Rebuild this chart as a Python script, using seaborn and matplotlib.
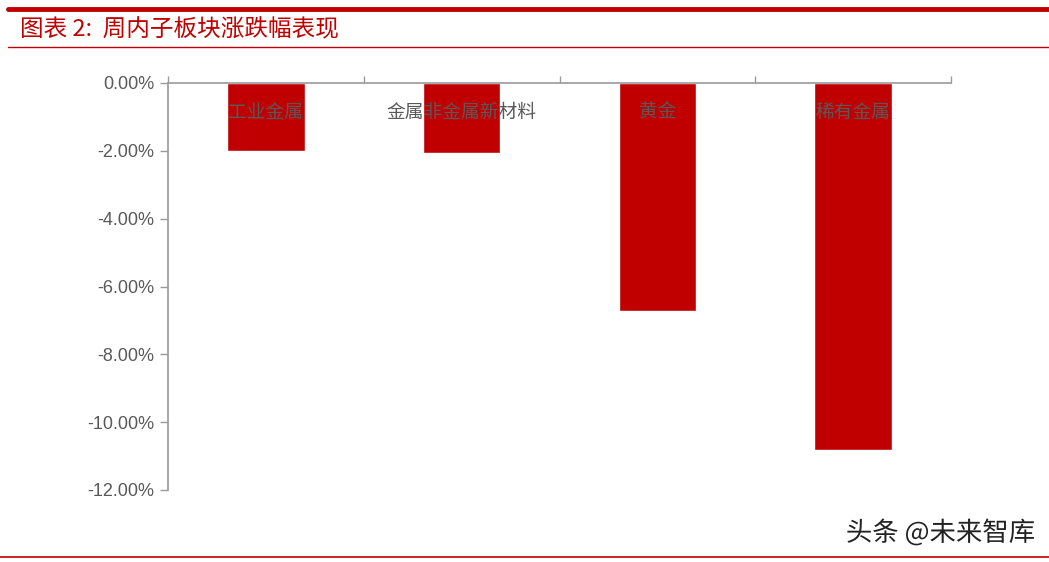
import matplotlib
matplotlib.use("Agg")
import matplotlib.pyplot as plt
import matplotlib.patheffects as pe
from matplotlib.ticker import FuncFormatter, FixedLocator
import numpy as np
import pandas as pd
import seaborn as sns

sns.set_style("white")
plt.rcParams['font.family'] = ['Noto Sans CJK SC', 'DejaVu Sans']

# data (weekly change, %)
categories = ["工业金属", "金属非金属新材料", "黄金", "稀有金属"]
changes = [-2.00, -2.07, -6.73, -10.83]
yticks = [0, -2, -4, -6, -8, -10, -12]

title = "图表 2:  周内子板块涨跌幅表现"
watermark = "头条 @未来智库"

red = "#C00000"
grey_text = "#595959"
grey_axis = "#9A9A9A"

df = pd.DataFrame({"category": categories, "change": changes})

fig = plt.figure(figsize=(10.49, 5.62), dpi=100)
ax = fig.add_axes([168 / 1049, 1 - 490 / 562, 783 / 1049, 407 / 562])

sns.barplot(data=df, x="category", y="change", color=red, width=0.395,
            saturation=1, ax=ax)

ax.set_ylim(-12, 0)
ax.set_xlim(-0.5, len(categories) - 0.5)
ax.set_xlabel("")
ax.set_ylabel("")

# y axis
ax.yaxis.set_major_locator(FixedLocator(yticks))
ax.yaxis.set_major_formatter(FuncFormatter(lambda v, p: f"{v:.2f}%"))
ax.tick_params(axis="y", colors=grey_axis, labelcolor=grey_text, labelsize=13,
               length=6, width=1, left=True, direction="out", pad=4)
for lbl in ax.get_yticklabels():
    lbl.set_fontfamily(["Liberation Sans", "DejaVu Sans"])

# x axis sits at the top (zero line), ticks between categories
ax.xaxis.tick_top()
ax.set_xticks(np.arange(len(categories) + 1) - 0.5)
ax.set_xticklabels([])
ax.tick_params(axis="x", colors=grey_axis, length=5, width=1, top=True,
               bottom=False, direction="out")

for i, name in enumerate(categories):
    ax.text(i, -0.86, name, ha="center", va="center", color=grey_text,
            fontsize=13.5)

for side in ["right", "bottom"]:
    ax.spines[side].set_visible(False)
for side in ["top", "left"]:
    ax.spines[side].set_color(grey_axis)
    ax.spines[side].set_linewidth(1.2)

# header and footer decoration
fig.add_artist(plt.Line2D([8 / 1049, 1], [1 - 9 / 562] * 2, color=red, lw=3.5))
fig.add_artist(plt.Line2D([8 / 1049, 1], [1 - 47 / 562] * 2, color=red, lw=1))
fig.add_artist(plt.Line2D([0, 1], [1 - 557 / 562] * 2, color=red, lw=1.2))
fig.text(20 / 1049, 1 - 30 / 562, title, color=red, fontsize=17,
         style="italic", va="center", ha="left")

fig.text(1035 / 1049, 1 - 533 / 562, watermark, color="#222222", fontsize=19,
         ha="right", va="center",
         path_effects=[pe.withStroke(linewidth=3, foreground="white")])

fig.savefig("out.png", dpi=100)
